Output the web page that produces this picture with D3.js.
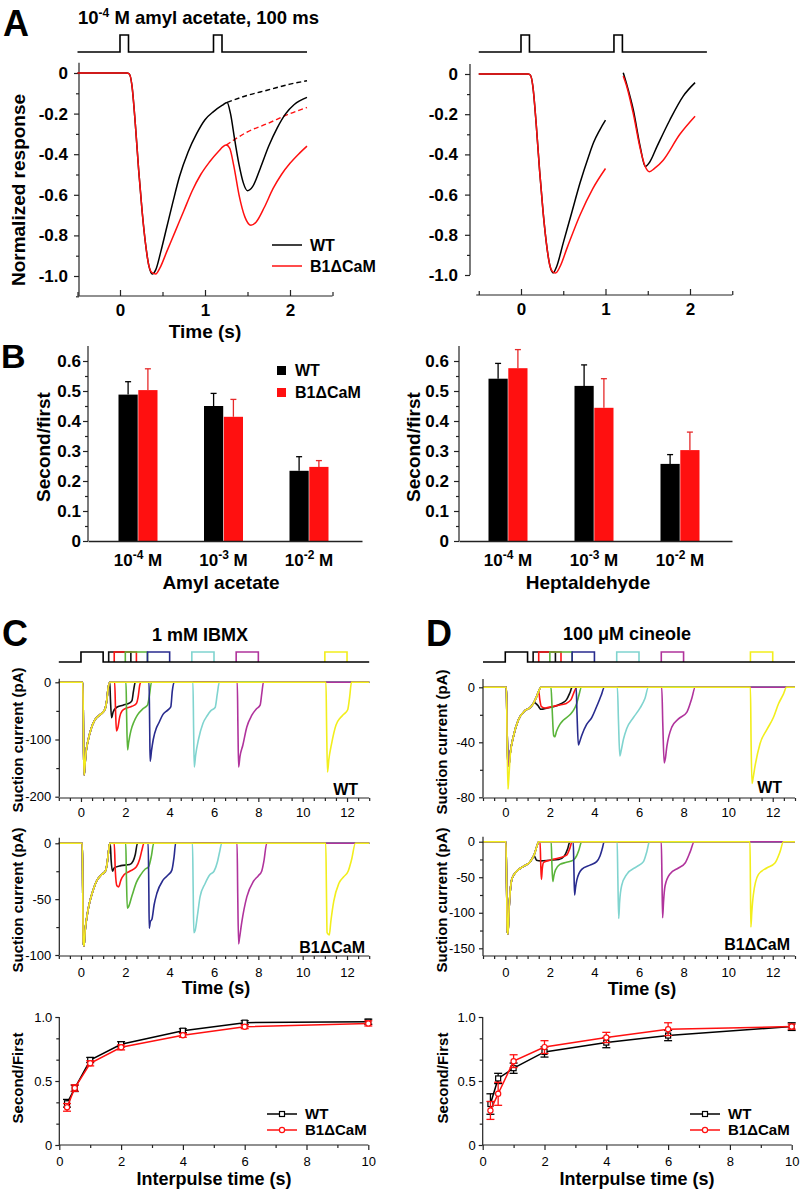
<!DOCTYPE html>
<html><head><meta charset="utf-8">
<script src="https://cdn.jsdelivr.net/npm/d3@7"></script>
<style>body{margin:0;background:#fff}svg{display:block}</style>
</head><body>
<script>
// ---------------- DATA ----------------
// Panel A (normalized responses, time in s)
const aStimRange = [-0.5, 2.2];
const aPulses = [[0, 0.1], [1.1, 1.2]];
const aL_wt = [[-0.5,0],[0.08,0],[0.11,-0.005],[0.14,-0.06],[0.18,-0.25],[0.22,-0.48],[0.26,-0.68],[0.3,-0.84],[0.34,-0.95],[0.38,-0.99],[0.42,-0.97],[0.48,-0.88],[0.55,-0.76],[0.62,-0.64],[0.7,-0.51],[0.8,-0.39],[0.9,-0.3],[1.0,-0.23],[1.1,-0.19],[1.2,-0.16],[1.26,-0.145],[1.3,-0.2],[1.35,-0.33],[1.4,-0.45],[1.45,-0.54],[1.5,-0.58],[1.56,-0.56],[1.65,-0.47],[1.75,-0.36],[1.85,-0.27],[1.95,-0.2],[2.05,-0.155],[2.2,-0.12]];
const aL_wtDash = [[1.26,-0.145],[1.5,-0.11],[1.73,-0.085],[2.0,-0.055],[2.2,-0.038]];
const aL_b1 = [[-0.5,0],[0.08,0],[0.11,-0.005],[0.14,-0.06],[0.18,-0.25],[0.22,-0.48],[0.26,-0.68],[0.3,-0.84],[0.34,-0.95],[0.38,-0.985],[0.42,-0.99],[0.47,-0.96],[0.55,-0.88],[0.65,-0.78],[0.75,-0.68],[0.85,-0.58],[0.95,-0.5],[1.05,-0.44],[1.15,-0.39],[1.25,-0.355],[1.29,-0.37],[1.34,-0.46],[1.4,-0.6],[1.47,-0.71],[1.54,-0.75],[1.6,-0.735],[1.7,-0.66],[1.8,-0.57],[1.9,-0.5],[2.0,-0.445],[2.1,-0.4],[2.2,-0.36]];
const aL_b1Dash = [[1.25,-0.355],[1.5,-0.29],[1.73,-0.25],[2.0,-0.2],[2.2,-0.17]];
const aR_wt1 = [[-0.5,0],[0.08,0],[0.11,-0.005],[0.14,-0.06],[0.18,-0.25],[0.22,-0.48],[0.26,-0.68],[0.3,-0.84],[0.34,-0.95],[0.38,-0.99],[0.42,-0.96],[0.5,-0.84],[0.6,-0.69],[0.7,-0.54],[0.8,-0.41],[0.86,-0.34],[0.93,-0.28],[1.0,-0.23]];
const aR_b11 = [[-0.5,0],[0.08,0],[0.11,-0.005],[0.14,-0.06],[0.18,-0.25],[0.22,-0.48],[0.26,-0.68],[0.3,-0.84],[0.34,-0.95],[0.38,-0.985],[0.41,-0.99],[0.46,-0.96],[0.55,-0.86],[0.7,-0.7],[0.85,-0.57],[1.0,-0.47]];
const aR_wt2 = [[1.21,0.006],[1.25,-0.05],[1.33,-0.18],[1.41,-0.36],[1.47,-0.46],[1.52,-0.44],[1.61,-0.36],[1.76,-0.23],[1.92,-0.11],[2.06,-0.043]];
const aR_b12 = [[1.21,-0.01],[1.25,-0.06],[1.33,-0.2],[1.41,-0.37],[1.47,-0.46],[1.52,-0.486],[1.58,-0.47],[1.68,-0.43],[1.88,-0.30],[2.06,-0.21]];

// Panel B (second/first ratio)
const bExps = ['-4', '-3', '-2'];
const bAmylWT = [0.488, 0.45, 0.234];
const bAmylWTerr = [0.043, 0.042, 0.047];
const bAmylB1 = [0.503, 0.414, 0.247];
const bAmylB1err = [0.071, 0.058, 0.021];
const bHeptWT = [0.541, 0.517, 0.257];
const bHeptWTerr = [0.051, 0.07, 0.031];
const bHeptB1 = [0.576, 0.444, 0.303];
const bHeptB1err = [0.062, 0.097, 0.06];

// Panels C & D stimulus (s)
const stimOn = [1.25, 1.5, 2, 3, 5, 7, 11];
const stimOff = [2.25, 2.5, 3, 4, 6, 8, 12];
const traceColors = ['#111111', '#ff1414', '#5ab43a', '#282b8e', '#80d4cf', '#b0339c', '#f2ee1c'];

// C, WT (pA): shared first response, then each colour's second response
const cWT_first = [[-1,0],[0.08,0],[0.1,-40],[0.12,-120],[0.14,-162],[0.17,-150],[0.22,-125],[0.33,-100],[0.45,-82],[0.62,-66],[0.85,-57],[1.0,-52],[1.1,-45],[1.17,-30],[1.22,-12],[1.3,0]];
const cWT_black = [[1.3,0],[1.33,-30],[1.38,-62],[1.45,-52],[1.6,-44],[1.9,-40],[2.2,-36],[2.3,-32],[2.37,-15],[2.45,0]];
const cWT_red = [[1.52,0],[1.56,-50],[1.6,-85],[1.66,-80],[1.75,-60],[1.85,-50],[2.05,-45],[2.3,-42],[2.5,-37],[2.58,-25],[2.65,-5],[2.7,0]];
const cWT_green = [[2.03,0],[2.06,-60],[2.1,-118],[2.15,-105],[2.25,-85],[2.4,-68],[2.55,-57],[2.8,-46],[3.0,-40],[3.08,-25],[3.18,0]];
const cWT_blue = [[3.07,0],[3.1,-80],[3.12,-138],[3.18,-120],[3.26,-100],[3.4,-80],[3.5,-72],[3.7,-56],[3.9,-49],[4.05,-43],[4.12,-15],[4.2,0]];
const cWT_cyan = [[5.05,0],[5.08,-80],[5.11,-148],[5.17,-128],[5.3,-100],[5.5,-72],[5.7,-58],[5.85,-50],[6.05,-44],[6.15,-20],[6.24,0]];
const cWT_magenta = [[7.05,0],[7.08,-80],[7.11,-148],[7.17,-130],[7.3,-110],[7.48,-78],[7.7,-58],[7.9,-47],[8.08,-40],[8.16,-18],[8.23,0]];
const cWT_yellow = [[11.05,0],[11.08,-80],[11.12,-157],[11.18,-135],[11.3,-108],[11.5,-75],[11.7,-62],[11.85,-56],[12.03,-48],[12.12,-25],[12.2,0]];

// C, B1ΔCaM (pA)
const cB1_first = [[-1,0],[0.06,0],[0.08,-40],[0.1,-88],[0.14,-92],[0.18,-80],[0.29,-63],[0.4,-52],[0.5,-45],[0.7,-34],[0.93,-28],[1.1,-25],[1.18,-18],[1.24,-8],[1.3,0]];
const cB1_black = [[1.32,0],[1.36,-15],[1.42,-25],[1.5,-22],[1.8,-20],[2.2,-19],[2.35,-16],[2.45,-10],[2.55,0]];
const cB1_red = [[1.5,0],[1.55,-25],[1.62,-38],[1.7,-39],[1.8,-33],[1.95,-28],[2.2,-25],[2.5,-21],[2.65,-14],[2.75,-6],[2.84,0]];
const cB1_green = [[2.02,0],[2.05,-30],[2.09,-58],[2.14,-57],[2.3,-47],[2.5,-35],[2.7,-28],[2.9,-23],[3.05,-21],[3.18,-11],[3.28,0]];
const cB1_blue = [[3.03,0],[3.06,-40],[3.08,-76],[3.13,-70],[3.2,-68],[3.3,-55],[3.42,-45],[3.7,-33],[3.95,-28],[4.1,-24],[4.2,-12],[4.27,0]];
const cB1_cyan = [[5.03,0],[5.06,-40],[5.09,-80],[5.15,-78],[5.25,-65],[5.37,-48],[5.6,-36],[5.82,-28],[6.0,-25],[6.15,-17],[6.25,-8],[6.35,0]];
const cB1_magenta = [[7.04,0],[7.07,-45],[7.11,-90],[7.15,-85],[7.25,-71],[7.48,-48],[7.78,-34],[8.0,-29],[8.15,-25],[8.25,-16],[8.38,0]];
const cB1_yellow = [[11.04,0],[11.07,-40],[11.1,-80],[11.2,-82],[11.27,-70],[11.4,-52],[11.63,-36],[11.85,-30],[12.05,-25],[12.2,-15],[12.38,0]];

// D, WT (pA)
const dWT_first = [[-1,0],[0.05,0],[0.08,-30],[0.12,-55],[0.16,-57],[0.22,-48],[0.36,-36],[0.58,-24],[0.88,-17],[1.1,-15],[1.25,-12],[1.4,-7],[1.52,-2],[1.6,0]];
const dWT_firstYellow = [[-1,0],[0.05,0],[0.08,-35],[0.12,-74],[0.15,-68],[0.22,-50],[0.36,-36],[0.58,-24],[0.88,-17],[1.1,-15],[1.25,-12],[1.4,-7],[1.52,-2],[1.6,0]];
const dWT_black = [[1.3,-11],[1.45,-13],[1.6,-16],[1.9,-15],[2.2,-14],[2.5,-12],[2.75,-9],[2.9,-4],[3.0,0]];
const dWT_red = [[1.5,-3],[1.55,-9],[1.62,-14],[1.8,-15],[2.1,-14],[2.4,-13],[2.7,-12],[2.95,-9],[3.1,-3],[3.2,0]];
const dWT_green = [[2.05,0],[2.1,-15],[2.17,-35],[2.22,-36],[2.3,-32],[2.45,-27],[2.6,-24],[2.9,-20],[3.05,-17],[3.2,-12],[3.3,-6],[3.42,0]];
const dWT_blue = [[3.18,0],[3.22,-20],[3.28,-42],[3.33,-40],[3.43,-35],[3.65,-27],[3.88,-22],[4.1,-14],[4.3,-6],[4.45,0]];
const dWT_cyan = [[5.03,0],[5.08,-25],[5.14,-50],[5.2,-46],[5.3,-38],[5.45,-30],[5.75,-22],[6.05,-15],[6.27,-8],[6.42,0]];
const dWT_magenta = [[7.02,0],[7.07,-28],[7.13,-55],[7.18,-52],[7.25,-43],[7.47,-29],[7.77,-23],[8.15,-18],[8.37,-8],[8.52,0]];
const dWT_yellow = [[11.0,0],[11.03,-40],[11.07,-70],[11.12,-66],[11.21,-57],[11.43,-41],[11.73,-31],[12.03,-22],[12.26,-12],[12.48,-5],[12.62,0]];

// D, B1ΔCaM (pA)
const dB1_first = [[-1,0],[0.03,0],[0.06,-60],[0.09,-125],[0.12,-130],[0.16,-100],[0.22,-70],[0.3,-52],[0.5,-42],[0.8,-35],[1.1,-29],[1.3,-18],[1.42,-6],[1.5,0]];
const dB1_black = [[1.3,-20],[1.4,-26],[1.6,-27],[2.0,-26],[2.4,-25],[2.65,-20],[2.8,-10],[2.9,0]];
const dB1_red = [[1.56,0],[1.59,-30],[1.62,-53],[1.66,-38],[1.72,-29],[2.0,-26],[2.4,-23],[2.75,-19],[2.9,-9],[3.0,0]];
const dB1_green = [[2.06,0],[2.09,-30],[2.13,-56],[2.18,-48],[2.25,-40],[2.45,-32],[2.75,-29],[3.05,-26],[3.2,-20],[3.3,-12],[3.43,0]];
const dB1_blue = [[3.05,0],[3.08,-40],[3.11,-75],[3.15,-65],[3.21,-54],[3.43,-39],[3.8,-33],[4.1,-28],[4.25,-20],[4.35,-10],[4.44,0]];
const dB1_cyan = [[5.02,0],[5.05,-50],[5.09,-108],[5.13,-85],[5.22,-62],[5.45,-46],[5.9,-35],[6.2,-28],[6.35,-14],[6.47,0]];
const dB1_magenta = [[7.0,0],[7.03,-50],[7.06,-107],[7.1,-85],[7.17,-62],[7.4,-45],[7.77,-37],[8.07,-30],[8.3,-14],[8.48,0]];
const dB1_yellow = [[10.98,0],[11.0,-60],[11.02,-120],[11.06,-100],[11.13,-75],[11.36,-46],[11.73,-37],[12.1,-30],[12.33,-14],[12.48,0]];

// C & D bottom: paired-pulse ratio vs interpulse time
const ipi = [0.25, 0.5, 1, 2, 4, 6, 10];
const cRatioWT = [0.326, 0.443, 0.664, 0.787, 0.893, 0.956, 0.963];
const cRatioWTerr = [0.03, 0.025, 0.02, 0.02, 0.015, 0.015, 0.02];
const cRatioB1 = [0.294, 0.445, 0.638, 0.763, 0.857, 0.924, 0.95];
const cRatioB1err = [0.03, 0.025, 0.02, 0.02, 0.015, 0.015, 0.02];
const dRatioWT = [0.32, 0.52, 0.60, 0.727, 0.80, 0.855, 0.925];
const dRatioWTerr = [0.08, 0.04, 0.04, 0.04, 0.04, 0.04, 0.03];
const dRatioB1 = [0.27, 0.40, 0.655, 0.765, 0.84, 0.905, 0.925];
const dRatioB1err = [0.07, 0.09, 0.05, 0.05, 0.04, 0.05, 0.02];

// ---------------- DRAWING ----------------
const FONT = "'Liberation Sans', Arial, Helvetica, sans-serif";
const AX = '#222';
const svg = d3.select('body').append('svg').attr('width', 800).attr('height', 1194).attr('font-family', FONT);
svg.append('rect').attr('width', 800).attr('height', 1194).attr('fill', '#fff');

function txt(x, y, s, o = {}) {
  const t = svg.append('text').attr('x', x).attr('y', y).text(s)
    .attr('font-size', o.fs || 16).attr('font-weight', o.fw || 'bold').attr('fill', '#000')
    .attr('text-anchor', o.anchor || 'start');
  if (o.rot) t.attr('transform', `rotate(-90,${x},${y})`);
  return t;
}
function styleAxis(g) {
  g.select('.domain').remove();
  g.attr('font-family', null).attr('font-size', null);
  g.selectAll('.tick line').attr('stroke', AX).attr('stroke-width', 1.2);
}
function yAxis(scale, x, majors, minors, fmt, o) {
  const gm = svg.append('g').attr('transform', `translate(${x},0)`)
    .call(d3.axisLeft(scale).tickValues(minors).tickSize(o.minLen).tickFormat(''));
  const g = svg.append('g').attr('transform', `translate(${x},0)`)
    .call(d3.axisLeft(scale).tickValues(majors).tickSize(o.majLen).tickPadding(o.pad).tickFormat(fmt));
  styleAxis(gm); styleAxis(g);
  g.selectAll('text').attr('font-size', o.fs).attr('font-weight', o.fw).attr('fill', '#000').attr('font-family', FONT);
  svg.append('line').attr('x1', x).attr('x2', x).attr('y1', scale(o.d0)).attr('y2', scale(o.d1))
    .attr('stroke', AX).attr('stroke-width', 1.2);
}
function xAxis(scale, y, majors, minors, fmt, o) {
  const s = o.inward ? -1 : 1;
  const gm = svg.append('g').attr('transform', `translate(0,${y})`)
    .call(d3.axisBottom(scale).tickValues(minors).tickSize(s * o.minLen).tickFormat(''));
  const g = svg.append('g').attr('transform', `translate(0,${y})`)
    .call(d3.axisBottom(scale).tickValues(majors).tickSize(s * o.majLen).tickPadding(o.pad).tickFormat(fmt));
  styleAxis(gm); styleAxis(g);
  g.selectAll('text').attr('font-size', o.fs).attr('font-weight', o.fw).attr('fill', '#000').attr('font-family', FONT);
  svg.append('line').attr('y1', y).attr('y2', y).attr('x1', scale(o.d0)).attr('x2', scale(o.d1))
    .attr('stroke', AX).attr('stroke-width', 1.2);
}
function curve(data, xs, ys, color, w, dash) {
  const p = svg.append('path').datum(data)
    .attr('d', d3.line().x(d => xs(d[0])).y(d => ys(d[1])).curve(d3.curveMonotoneX))
    .attr('fill', 'none').attr('stroke', color).attr('stroke-width', w).attr('stroke-linejoin', 'round');
  if (dash) p.attr('stroke-dasharray', dash);
  return p;
}

// Panel letters
txt(3, 36, 'A', { fs: 36 });
txt(1, 368, 'B', { fs: 34 });
txt(2, 646, 'C', { fs: 36 });
txt(426, 646, 'D', { fs: 36 });

// ===== Panel A =====
const fmtA = d => d === 0 ? '0' : d.toFixed(1);
const aMaj = [0, -0.2, -0.4, -0.6, -0.8, -1.0];
const aXmaj = [0, 1, 2], aXmin = [-0.5, 0.5, 1.5, 2.5];

function stimA(xs) {
  const base = 52, top = 35;
  let d = `M${xs(aStimRange[0])},${base}`;
  aPulses.forEach(p => { d += `H${xs(p[0])}V${top}H${xs(p[1])}V${base}`; });
  d += `H${xs(aStimRange[1])}`;
  svg.append('path').attr('d', d).attr('fill', 'none').attr('stroke', '#000').attr('stroke-width', 1.6);
}
// title
const at = txt(78, 24, '10', { fs: 18.5 });
at.append('tspan').attr('dy', -7).attr('font-size', 12).text('-4');
at.append('tspan').attr('dy', 7).text(' M amyl acetate, 100 ms');

// left
const xAL = d3.scaleLinear([-0.5, 2.5], [77.5, 332.5]);
const yAL = d3.scaleLinear([-1, 0], [276, 73]);
stimA(xAL);
yAxis(yAL, 79, aMaj, [-0.1, -0.3, -0.5, -0.7, -0.9, -1.1], fmtA, { minLen: 3, majLen: 5, pad: 6, fs: 17, fw: 'bold', d0: 0.05, d1: -1.1 });
xAxis(xAL, 296, aXmaj, aXmin, d3.format('d'), { inward: true, minLen: 4, majLen: 6, pad: 8, fs: 17, fw: 'bold', d0: -0.48, d1: 2.5 });
curve(aL_wtDash, xAL, yAL, '#000', 1.4, '5,3');
curve(aL_b1Dash, xAL, yAL, '#ff1010', 1.4, '5,3');
curve(aL_wt, xAL, yAL, '#000', 1.5);
curve(aL_b1, xAL, yAL, '#ff1010', 1.5);
txt(205, 338, 'Time (s)', { fs: 19, anchor: 'middle' });
txt(25, 190, 'Normalized response', { fs: 19, anchor: 'middle', rot: true });
// legend
svg.append('line').attr('x1', 272).attr('x2', 302).attr('y1', 245).attr('y2', 245).attr('stroke', '#000').attr('stroke-width', 1.5);
svg.append('line').attr('x1', 272).attr('x2', 302).attr('y1', 266).attr('y2', 266).attr('stroke', '#ff1010').attr('stroke-width', 1.5);
txt(310, 251, 'WT', { fs: 16 });
txt(310, 272, 'B1\u0394CaM', { fs: 16 });

// right
const xAR = d3.scaleLinear([-0.5, 2.5], [478.75, 732.25]);
const yAR = d3.scaleLinear([-1, 0], [275, 74]);
stimA(xAR);
yAxis(yAR, 470, aMaj, [-0.1, -0.3, -0.5, -0.7, -0.9], fmtA, { minLen: 3, majLen: 5, pad: 7, fs: 17, fw: 'bold', d0: 0.05, d1: -1.0 });
xAxis(xAR, 295, aXmaj, aXmin, d3.format('d'), { inward: true, minLen: 4, majLen: 6, pad: 8, fs: 17, fw: 'bold', d0: -0.53, d1: 2.5 });
curve(aR_wt1, xAR, yAR, '#000', 1.5);
curve(aR_b11, xAR, yAR, '#ff1010', 1.5);
curve(aR_wt2, xAR, yAR, '#000', 1.5);
curve(aR_b12, xAR, yAR, '#ff1010', 1.5);

// ===== Panel B =====
const yB = d3.scaleLinear([0, 0.6], [541, 361]);
const fmtB = d => d === 0 ? '0' : d.toFixed(1);
const bMaj = [0, 0.1, 0.2, 0.3, 0.4, 0.5, 0.6];
const bMin = [0.05, 0.15, 0.25, 0.35, 0.45, 0.55];
function barPanel(x1, axX, centers, wt, wtErr, b1, b1Err, label, labelX, yl, pad) {
  const xc = d3.scalePoint().domain(bExps).range(centers);
  const sub = d3.scaleBand().domain(['WT', 'B1']).range([-19.5, 19.5]).paddingInner(0.03);
  yAxis(yB, axX, bMaj, bMin, fmtB, { minLen: 3, majLen: 5, pad: pad, fs: 17, fw: 'bold', d0: 0, d1: 0.65 });
  const series = [[wt, wtErr, '#000', 'WT'], [b1, b1Err, '#ff1010', 'B1']];
  series.forEach(([v, e, c, k]) => {
    const ec = c === '#000' ? '#000' : '#e62a2a';
    bExps.forEach((cat, i) => {
      const bx = xc(cat) + sub(k), bw = sub.bandwidth(), cx = bx + bw / 2;
      svg.append('line').attr('x1', cx).attr('x2', cx).attr('y1', yB(v[i])).attr('y2', yB(v[i] + e[i]))
        .attr('stroke', ec).attr('stroke-width', 1.3);
      svg.append('line').attr('x1', cx - 3).attr('x2', cx + 3).attr('y1', yB(v[i] + e[i])).attr('y2', yB(v[i] + e[i]))
        .attr('stroke', ec).attr('stroke-width', 1.3);
      svg.append('rect').attr('x', bx).attr('width', bw).attr('y', yB(v[i])).attr('height', yB(0) - yB(v[i])).attr('fill', c);
    });
  });
  // x axis (no ticks)
  const xa = d3.scaleLinear([0, 1], [axX, x1]);
  svg.append('g').attr('transform', `translate(0,541)`).call(d3.axisBottom(xa).tickValues([]).tickSizeOuter(0))
    .call(g => g.select('.domain').attr('stroke', AX).attr('stroke-width', 1.3));
  bExps.forEach(cat => {
    const t = txt(xc(cat), 566, '10', { fs: 17, anchor: 'middle' });
    t.append('tspan').attr('dy', -7).attr('font-size', 12).text(cat);
    t.append('tspan').attr('dy', 7).text(' M');
  });
  txt(labelX, 589, label, { fs: 19, anchor: 'middle' });
  txt(yl, 447, 'Second/first', { fs: 19, anchor: 'middle', rot: true });
}
barPanel(362, 88, [138, 309], bAmylWT, bAmylWTerr, bAmylB1, bAmylB1err, 'Amyl acetate', 221, 50, 2);
barPanel(732, 459, [508, 680], bHeptWT, bHeptWTerr, bHeptB1, bHeptB1err, 'Heptaldehyde', 588, 420, 5);
// B legend
svg.append('rect').attr('x', 277).attr('y', 366).attr('width', 9).attr('height', 9).attr('fill', '#000');
svg.append('rect').attr('x', 277).attr('y', 388).attr('width', 9).attr('height', 9).attr('fill', '#ff1010');
txt(295, 376, 'WT', { fs: 16 });
txt(295, 398, 'B1\u0394CaM', { fs: 16 });

// ===== Panels C & D traces =====
const xMaj = [0, 2, 4, 6, 8, 10, 12];
const xMin = d3.range(-1, 13.01, 0.5).filter(v => v % 2 !== 0);
function stimCD(xs) {
  const base = 662, top = 652;
  stimOn.forEach((on, i) => {
    svg.append('path').attr('d', `M${xs(on)},${base}V${top}H${xs(stimOff[i])}V${base}`)
      .attr('fill', 'none').attr('stroke', traceColors[i]).attr('stroke-width', 1.6);
  });
  svg.append('path').attr('d', `M${xs(-1)},${base}H${xs(0)}V${top}H${xs(1)}V${base}H${xs(13)}`)
    .attr('fill', 'none').attr('stroke', '#000').attr('stroke-width', 1.6);
}
function traces(xs, ys, first, seconds, firstYellow) {
  seconds.forEach((s, i) => {
    const f = (i === 6 && firstYellow) ? firstYellow : first;
    const t0 = s[0][0];
    const data = f.filter(p => p[0] < t0).concat(s, [[13, 0]]);
    curve(data, xs, ys, traceColors[i], 1.6);
  });
}
const fmtI = d => String(d);

// C
const xC = d3.scaleLinear([-1, 13], [58.8, 369.2]);
const yC1 = d3.scaleLinear([-200, 0], [796.7, 682.3]);
const yC2 = d3.scaleLinear([-100, 0], [955, 843.3]);
txt(200, 641, '1 mM IBMX', { fs: 18, anchor: 'middle' });
stimCD(xC);
traces(xC, yC1, cWT_first, [cWT_black, cWT_red, cWT_green, cWT_blue, cWT_cyan, cWT_magenta, cWT_yellow]);
yAxis(yC1, 59.3, [0, -100, -200], [-50, -150], fmtI, { minLen: 3, majLen: 4, pad: 4, fs: 13, fw: 'normal', d0: 6, d1: -200 });
xAxis(xC, 798, xMaj, xMin, fmtI, { minLen: 3, majLen: 4, pad: 6, fs: 13, fw: 'normal', d0: -1, d1: 13 });
txt(358, 795, 'WT', { fs: 16, anchor: 'end' });
txt(23, 740, 'Suction current (pA)', { fs: 15, anchor: 'middle', rot: true });

traces(xC, yC2, cB1_first, [cB1_black, cB1_red, cB1_green, cB1_blue, cB1_cyan, cB1_magenta, cB1_yellow]);
yAxis(yC2, 59.3, [0, -50, -100], [-25, -75], fmtI, { minLen: 3, majLen: 4, pad: 4, fs: 13, fw: 'normal', d0: 5, d1: -100 });
xAxis(xC, 956, xMaj, xMin, fmtI, { minLen: 3, majLen: 4, pad: 8, fs: 13, fw: 'normal', d0: -1, d1: 13 });
txt(365, 953, 'B1\u0394CaM', { fs: 16, anchor: 'end' });
txt(23, 900, 'Suction current (pA)', { fs: 15, anchor: 'middle', rot: true });
txt(216, 994, 'Time (s)', { fs: 18, anchor: 'middle' });

// D
const xD = d3.scaleLinear([-1, 13], [483, 795]);
const yD1 = d3.scaleLinear([-80, 0], [797.3, 687.3]);
const yD2 = d3.scaleLinear([-150, 0], [948.3, 841.7]);
txt(627, 640, '100 \u03bcM cineole', { fs: 18, anchor: 'middle' });
stimCD(xD);
traces(xD, yD1, dWT_first, [dWT_black, dWT_red, dWT_green, dWT_blue, dWT_cyan, dWT_magenta, dWT_yellow], dWT_firstYellow);
yAxis(yD1, 483, [0, -40, -80], [-20, -60], fmtI, { minLen: 3, majLen: 4, pad: 4, fs: 13, fw: 'normal', d0: 6, d1: -80 });
xAxis(xD, 798, xMaj, xMin, fmtI, { minLen: 3, majLen: 4, pad: 6, fs: 13, fw: 'normal', d0: -1, d1: 13 });
txt(782, 793, 'WT', { fs: 16, anchor: 'end' });
txt(447, 742, 'Suction current (pA)', { fs: 15, anchor: 'middle', rot: true });

traces(xD, yD2, dB1_first, [dB1_black, dB1_red, dB1_green, dB1_blue, dB1_cyan, dB1_magenta, dB1_yellow]);
yAxis(yD2, 483, [0, -50, -100, -150], [-25, -75, -125], fmtI, { minLen: 3, majLen: 4, pad: 4, fs: 13, fw: 'normal', d0: 7, d1: -161 });
xAxis(xD, 956, xMaj, xMin, fmtI, { minLen: 3, majLen: 4, pad: 8, fs: 13, fw: 'normal', d0: -1, d1: 13 });
txt(790, 950, 'B1\u0394CaM', { fs: 16, anchor: 'end' });
txt(447, 900, 'Suction current (pA)', { fs: 15, anchor: 'middle', rot: true });
txt(642, 995, 'Time (s)', { fs: 18, anchor: 'middle' });

// ===== Bottom ratio panels =====
const yR = d3.scaleLinear([0, 1], [1145, 1017]);
function ratioPanel(x0, x1, wt, wtErr, b1, b1Err, legX, ylx, titleX) {
  const xs = d3.scaleLinear([0, 10], [x0, x1]);
  yAxis(yR, x0, [0, 0.5, 1], [1/6, 2/6, 4/6, 5/6], d => d === 0 ? '0' : d.toFixed(1), { minLen: 3, majLen: 4, pad: 3, fs: 13, fw: 'normal', d0: 0, d1: 1 });
  xAxis(xs, 1145, [0, 2, 4, 6, 8, 10], [1, 3, 5, 7, 9], fmtI, { minLen: 3, majLen: 5, pad: 7, fs: 13, fw: 'normal', d0: 0, d1: 10 });
  const sets = [[wt, wtErr, '#000', 'sq'], [b1, b1Err, '#ff1010', 'ci']];
  sets.forEach(([v, e, c, m]) => {
    const pts = ipi.map((t, i) => [t, v[i], e[i]]);
    svg.append('path').datum(pts).attr('d', d3.line().x(d => xs(d[0])).y(d => yR(d[1])))
      .attr('fill', 'none').attr('stroke', c).attr('stroke-width', 1.5);
    pts.forEach(p => {
      const cx = xs(p[0]);
      svg.append('line').attr('x1', cx).attr('x2', cx).attr('y1', yR(p[1] - p[2])).attr('y2', yR(p[1] + p[2])).attr('stroke', c).attr('stroke-width', 1.3);
      [p[1] - p[2], p[1] + p[2]].forEach(yv => svg.append('line').attr('x1', cx - 4).attr('x2', cx + 4).attr('y1', yR(yv)).attr('y2', yR(yv)).attr('stroke', c).attr('stroke-width', 1.3));
      if (m === 'sq') svg.append('rect').attr('x', cx - 2.5).attr('y', yR(p[1]) - 2.5).attr('width', 5).attr('height', 5).attr('fill', '#fff').attr('stroke', c).attr('stroke-width', 1.2);
      else svg.append('circle').attr('cx', cx).attr('cy', yR(p[1])).attr('r', 2.6).attr('fill', '#fff').attr('stroke', c).attr('stroke-width', 1.2);
    });
  });
  // legend
  [[1114, '#000', 'sq', 'WT'], [1130, '#ff1010', 'ci', 'B1\u0394CaM']].forEach(([ly, c, m, lab]) => {
    svg.append('line').attr('x1', legX).attr('x2', legX + 30).attr('y1', ly).attr('y2', ly).attr('stroke', c).attr('stroke-width', 1.5);
    if (m === 'sq') svg.append('rect').attr('x', legX + 12.5).attr('y', ly - 2.5).attr('width', 5).attr('height', 5).attr('fill', '#fff').attr('stroke', c).attr('stroke-width', 1.2);
    else svg.append('circle').attr('cx', legX + 15).attr('cy', ly).attr('r', 2.6).attr('fill', '#fff').attr('stroke', c).attr('stroke-width', 1.2);
    txt(legX + 38, ly + 5, lab, { fs: 15 });
  });
  txt(ylx, 1078, 'Second/First', { fs: 15, anchor: 'middle', rot: true });
  txt(titleX, 1185, 'Interpulse time (s)', { fs: 18, anchor: 'middle' });
}
ratioPanel(59.3, 368.3, cRatioWT, cRatioWTerr, cRatioB1, cRatioB1err, 267, 23, 214);
ratioPanel(482.7, 791.7, dRatioWT, dRatioWTerr, dRatioB1, dRatioB1err, 690, 448, 637);
</script>
</body></html>
